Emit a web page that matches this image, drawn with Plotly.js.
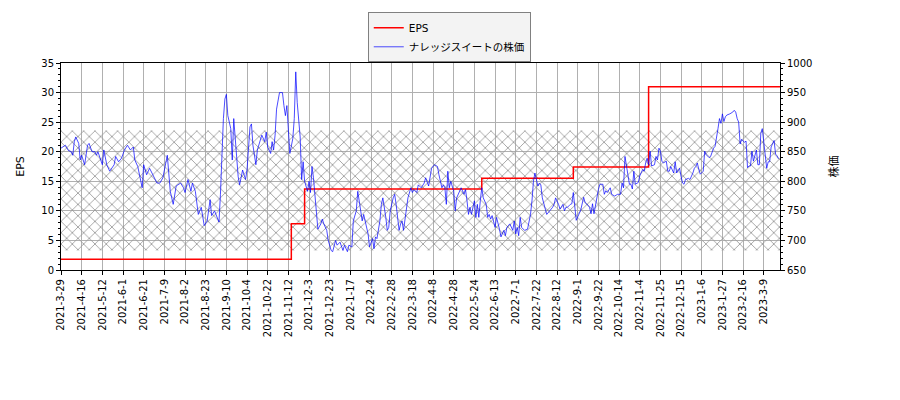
<!DOCTYPE html>
<html>
<head>
<meta charset="utf-8">
<script src="https://cdn.plot.ly/plotly-3.0.1.min.js"></script>
<style>
body{margin:0;background:#fff;}
#chart{width:900px;height:400px;}
</style>
</head>
<body>
<div id="chart"></div>
<script>
// tick labels, one every 14 trading days
var tickLabels=['2021-3-29','2021-4-16','2021-5-12','2021-6-1','2021-6-21','2021-7-9','2021-8-2','2021-8-23','2021-9-10','2021-10-4','2021-10-22','2021-11-12','2021-12-3','2021-12-23','2022-1-17','2022-2-4','2022-2-28','2022-3-18','2022-4-8','2022-4-28','2022-5-24','2022-6-13','2022-7-1','2022-7-22','2022-8-12','2022-9-1','2022-9-22','2022-10-14','2022-11-4','2022-11-25','2022-12-15','2023-1-6','2023-1-27','2023-2-16','2023-3-9'];
var lastDay=487;

// EPS (left axis), changes on these trading days
var epsDay=[0,156,165,285,347,398,487];
var eps=[1.8,7.8,13.7,15.5,17.4,31.0,31.0];

// hatched band, left axis units
var bandLow=3.3;
var bandHigh=23.6;

// share price (right axis), trading day index / price in yen
var priceDay=[0,3,5,7,8,9,10,12,13,14,16,18,19,21,23,24,25,28,29,31,33,36,37,39,41,43,45,47,49,50,52,55,56,58,60,63,65,67,69,72,73,74,76,78,81,83,84,86,88,89,91,93,95,97,99,101,102,104,107,108,
110,111,112,113,115,116,117,118,119,120,121,123,125,126,128,129,130,132,133,135,136,138,139,140,142,143,144,145,146,148,150,151,152,153,154,155,157,158,159,160,162,163,164,165,167,168,169,170,171,173,174,176,
177,178,180,181,183,184,186,187,189,191,192,194,195,197,198,200,201,203,204,205,207,208,209,211,212,213,214,216,217,218,220,221,222,223,225,226,227,229,230,231,232,233,234,235,237,238,239,241,242,244,246,247,249,250,251,253,255,256,257,
258,259,260,261,262,263,264,266,267,268,270,271,273,274,275,276,277,278,280,281,282,283,284,285,286,288,289,290,291,292,294,295,297,298,300,301,302,304,306,307,308,309,310,311,312,314,316,317,318,319,320,321,323,324,325,326,328,329,331,333,334,335,337,338,340,341,342,343,345,
346,347,349,350,351,352,354,355,356,358,359,360,361,363,364,365,367,368,369,370,372,373,375,377,379,380,381,382,384,385,386,387,388,389,391,392,394,395,396,397,398,399,400,402,403,404,405,406,407,408,410,411,412,413,415,416,417,419,420,421,422,423,425,426,428,429,430,431,432,433,435,436,437,439,440,442,443,444,445,446,447,448,449,450,451,453,455,456,457,458,459,460,461,462,463,464,465,466,467,468,469,471,472,473,474,475,476,477,478,479,480,481,483,484,485,486];
var price=[856,861,852,850,844,867,875,864,836,844,828,861,864,850,850,844,850,828,853,828,817,828,842,833,839,853,861,853,858,836,825,789,828,811,822,806,797,797,806,844,808,783,761,792,797,789,781,803,783,797,783,744,756,725,733,769,742,750,731,778,
906,939,947,911,889,836,906,872,847,808,794,819,803,819,892,897,861,828,853,870,878,867,883,858,847,867,853,878,922,950,950,928,911,928,878,847,872,906,985,933,875,803,833,800,783,800,781,825,806,744,719,728,
736,728,717,700,683,681,700,692,697,683,692,681,692,689,733,750,783,750,733,744,722,711,689,703,686,706,703,733,761,772,739,717,722,750,772,778,761,717,728,733,717,733,750,772,789,781,786,781,794,789,797,806,792,806,822,828,825,811,800,
789,794,789,761,817,789,800,783,750,772,783,789,778,786,767,744,756,744,767,739,761,739,767,789,772,761,739,744,736,742,722,739,719,706,717,708,722,728,717,733,711,722,708,739,722,717,719,733,744,767,800,814,792,797,794,772,753,744,750,756,761,772,761,753,761,750,756,756,761,
762,781,734,740,745,751,773,764,762,756,745,762,745,775,786,795,795,778,784,781,789,778,775,778,778,797,789,842,812,795,795,787,817,795,798,809,820,817,831,839,828,851,826,828,842,836,856,851,834,831,834,817,817,825,814,833,814,822,808,797,795,803,805,803,814,822,825,831,820,812,817,851,845,840,842,856,859,878,889,906,898,914,901,909,912,914,917,920,917,906,900,863,871,868,866,868,823,826,826,851,834,853,828,828,881,889,866,850,822,833,833,858,869,846,843,838];

var tickDays=tickLabels.map(function(t,i){return i*14;});

var band={
  x:[0,lastDay,lastDay,0,0],
  y:[bandLow,bandLow,bandHigh,bandHigh,bandLow],
  type:'scatter',mode:'none',fill:'toself',
  fillcolor:'rgba(0,0,0,0)',
  fillpattern:{shape:'x',fgcolor:'#999999',bgcolor:'rgba(0,0,0,0)',size:8,solidity:0.2},
  showlegend:false,hoverinfo:'skip',xaxis:'x',yaxis:'y'
};

var epsTrace={
  x:epsDay,y:eps,name:'EPS',type:'scatter',mode:'lines',
  line:{color:'red',width:1.5,shape:'hv'},xaxis:'x',yaxis:'y'
};

var priceTrace={
  x:priceDay,y:price,name:'ナレッジスイートの株価',type:'scatter',mode:'lines',
  line:{color:'rgba(0,0,255,0.7)',width:1},xaxis:'x',yaxis:'y2'
};

var tickFont={family:'DejaVu Sans',size:10,color:'#000'};

var layout={
  width:900,height:400,
  margin:{l:61,r:120,t:60,b:130},
  paper_bgcolor:'#fff',plot_bgcolor:'#fff',
  font:{family:'DejaVu Sans, Noto Sans CJK JP',size:10,color:'#000'},
  showlegend:true,
  legend:{x:0.54,xanchor:'center',y:1.245,yanchor:'top',
    bgcolor:'rgba(242,242,242,0.9)',bordercolor:'#808080',borderwidth:1,
    font:{family:'DejaVu Sans, Noto Sans CJK JP',size:10.5,color:'#000'},tracegroupgap:0},
  xaxis:{range:[0,lastDay],tickmode:'array',tickvals:tickDays,ticktext:tickLabels,tickangle:-90,
    ticks:'outside',ticklen:4,tickcolor:'#000',tickfont:tickFont,
    showgrid:true,gridcolor:'#b0b0b0',gridwidth:1,zeroline:false,
    showline:true,linecolor:'#000',linewidth:1,mirror:true},
  yaxis:{range:[0,35],dtick:5,ticks:'outside',ticklen:4,tickcolor:'#000',tickfont:tickFont,
    minor:{dtick:1,ticks:'outside',ticklen:2,tickcolor:'#000',showgrid:false},
    showgrid:true,gridcolor:'#b0b0b0',gridwidth:1,zeroline:false,
    showline:true,linecolor:'#000',linewidth:1,
    title:{text:'EPS',font:{family:'DejaVu Sans',size:11},standoff:14}},
  yaxis2:{range:[650,1000],dtick:50,overlaying:'y',side:'right',
    ticks:'outside',ticklen:4,tickcolor:'#000',tickfont:tickFont,
    minor:{dtick:10,ticks:'outside',ticklen:2,tickcolor:'#000',showgrid:false},
    showgrid:false,zeroline:false,showline:true,linecolor:'#000',linewidth:1,
    title:{text:'株価',font:{family:'Noto Sans CJK JP',size:11},standoff:18}}
};

Plotly.newPlot('chart',[band,epsTrace,priceTrace],layout,{staticPlot:true});
</script>
</body>
</html>
